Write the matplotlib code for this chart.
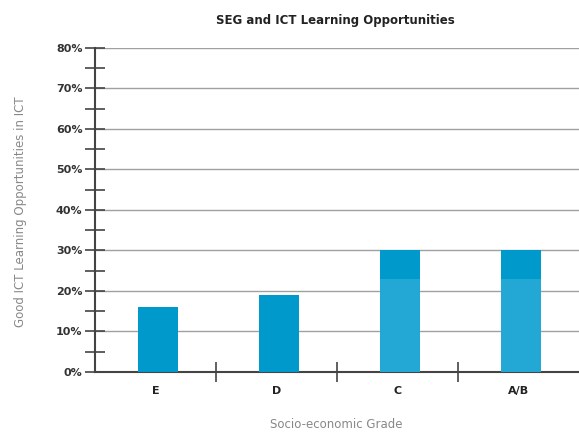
import numpy as np
import matplotlib.pyplot as plt
from matplotlib.ticker import MultipleLocator, FixedLocator, NullFormatter

grades = ['E', 'D', 'C', 'A/B']
lower = [16, 19, 23, 23]
upper = [0, 0, 7, 7]
lower_colors = ['#0099cc', '#0099cc', '#23a7d4', '#23a7d4']
top_color = '#0099cc'
yticks = list(range(0, 90, 10))

fig = plt.figure(figsize=(5.79, 4.32), dpi=100)
ax = fig.add_axes([0.164, 0.139, 0.836, 0.75])

x = np.arange(len(grades))
ax.bar(x + 0.02, lower, width=0.33, color=lower_colors, zorder=3)
ax.bar(x + 0.02, upper, width=0.33, bottom=lower, color=top_color, zorder=3)

ax.set_xlim(-0.5, 3.5)
ax.set_ylim(0, 80)

ax.set_yticks(yticks)
ax.set_yticklabels([f'{v}%' for v in yticks])
ax.yaxis.set_minor_locator(MultipleLocator(5))
ax.yaxis.grid(True, which='major', color='#a0a0a0', linewidth=1, zorder=0)

ax.xaxis.set_major_locator(FixedLocator([0.5, 1.5, 2.5]))
ax.xaxis.set_major_formatter(NullFormatter())
ax.xaxis.set_minor_locator(FixedLocator(x))
ax.set_xticklabels(grades, minor=True)

ax.tick_params(axis='y', which='both', direction='inout', length=14, width=1.2,
               color='#444444', labelsize=8, labelcolor='#333333', pad=2)
ax.tick_params(axis='x', which='major', direction='inout', length=15, width=1.2,
               color='#444444')
ax.tick_params(axis='x', which='minor', length=0, labelsize=8,
               labelcolor='#222222', pad=10)
for lbl in ax.get_yticklabels():
    lbl.set_fontweight('bold')
for lbl in ax.get_xticklabels(minor=True):
    lbl.set_fontweight('bold')

for s in ['top', 'right']:
    ax.spines[s].set_visible(False)
for s in ['left', 'bottom']:
    ax.spines[s].set_color('#444444')
    ax.spines[s].set_linewidth(1.5)

fig.text(0.58, 0.945, 'SEG and ICT Learning Opportunities', ha='center',
         fontsize=8.5, color='#222222', fontweight='bold')
fig.text(0.58, 0.01, 'Socio-economic Grade', ha='center', fontsize=8.5,
         color='#888888')
fig.text(0.035, 0.51, 'Good ICT Learning Opportunities in ICT', ha='center',
         va='center', rotation=90, fontsize=8.5, color='#888888')

fig.savefig('out.png', dpi=100)
